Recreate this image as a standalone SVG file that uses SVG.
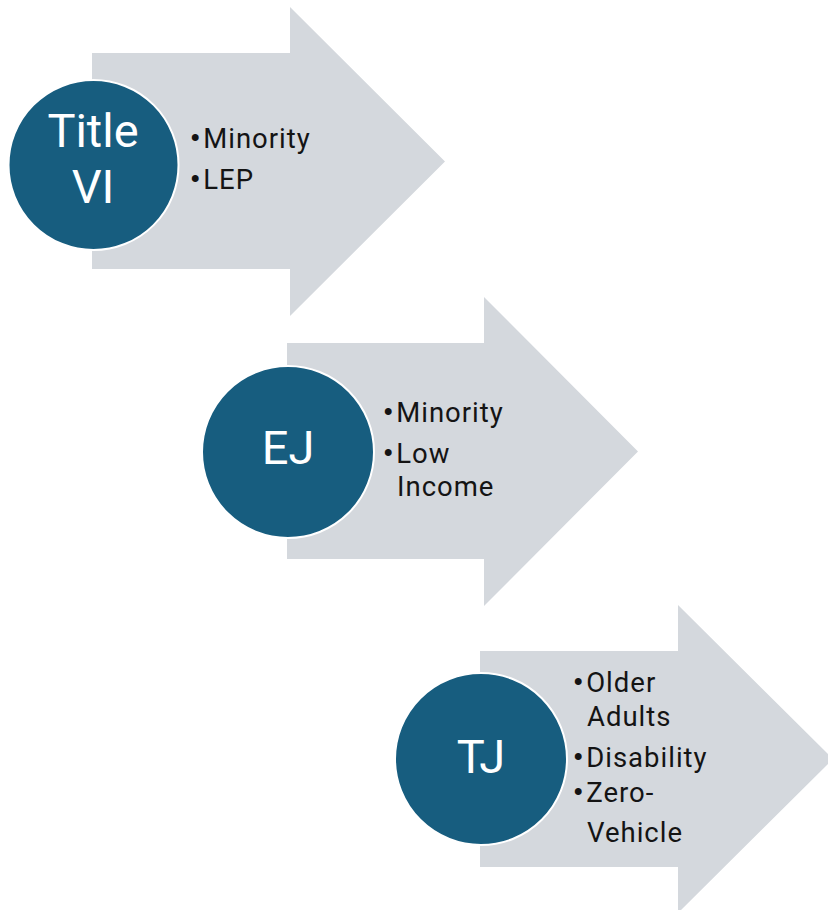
<svg xmlns="http://www.w3.org/2000/svg" width="828" height="910" viewBox="0 0 828 910">
<style>
.arrow{fill:#D4D8DD}
.disc{fill:#175D7F;stroke:#FFFFFF;stroke-width:2}
.title{font-family:Roboto,"Noto Sans",sans-serif;font-size:47px;fill:#FFFFFF;text-anchor:middle}
.item{font-family:Roboto,"Noto Sans",sans-serif;font-size:27.5px;letter-spacing:1px;fill:#141414}
.bul{font-weight:900;letter-spacing:3px}
</style>
<rect width="828" height="910" fill="#FFFFFF"/>
<g id="connectors"></g>
<g id="node-title-vi">
<path class="arrow" d="M92,53 H290 V7 L445,161.5 L290,316 V269 H92 Z"/>
<circle class="disc" cx="93.5" cy="165" r="85"/>
<text class="title" x="93" y="147">Title</text>
<text class="title" x="93" y="203">VI</text>
<text class="item" x="190" y="148"><tspan class="bul">•</tspan>Minority</text>
<text class="item" x="190" y="189"><tspan class="bul">•</tspan>LEP</text>
</g>
<g id="node-ej">
<path class="arrow" d="M287,343 H484 V297 L638,451.5 L484,606 V559 H287 Z"/>
<circle class="disc" cx="288" cy="452" r="86"/>
<text class="title" x="288" y="464">EJ</text>
<text class="item" x="383" y="422"><tspan class="bul">•</tspan>Minority</text>
<text class="item" x="383" y="463"><tspan class="bul">•</tspan>Low</text>
<text class="item" x="397" y="496">Income</text>
</g>
<g id="node-tj">
<path class="arrow" d="M480,651 H678 V605 L833,759 L678,913 V867 H480 Z"/>
<circle class="disc" cx="481" cy="759" r="86"/>
<text class="title" x="481" y="773">TJ</text>
<text class="item" x="573" y="692"><tspan class="bul">•</tspan>Older</text>
<text class="item" x="587" y="726">Adults</text>
<text class="item" x="573" y="767"><tspan class="bul">•</tspan>Disability</text>
<text class="item" x="573" y="802"><tspan class="bul">•</tspan>Zero-</text>
<text class="item" x="587" y="842">Vehicle</text>
</g>
</svg>
